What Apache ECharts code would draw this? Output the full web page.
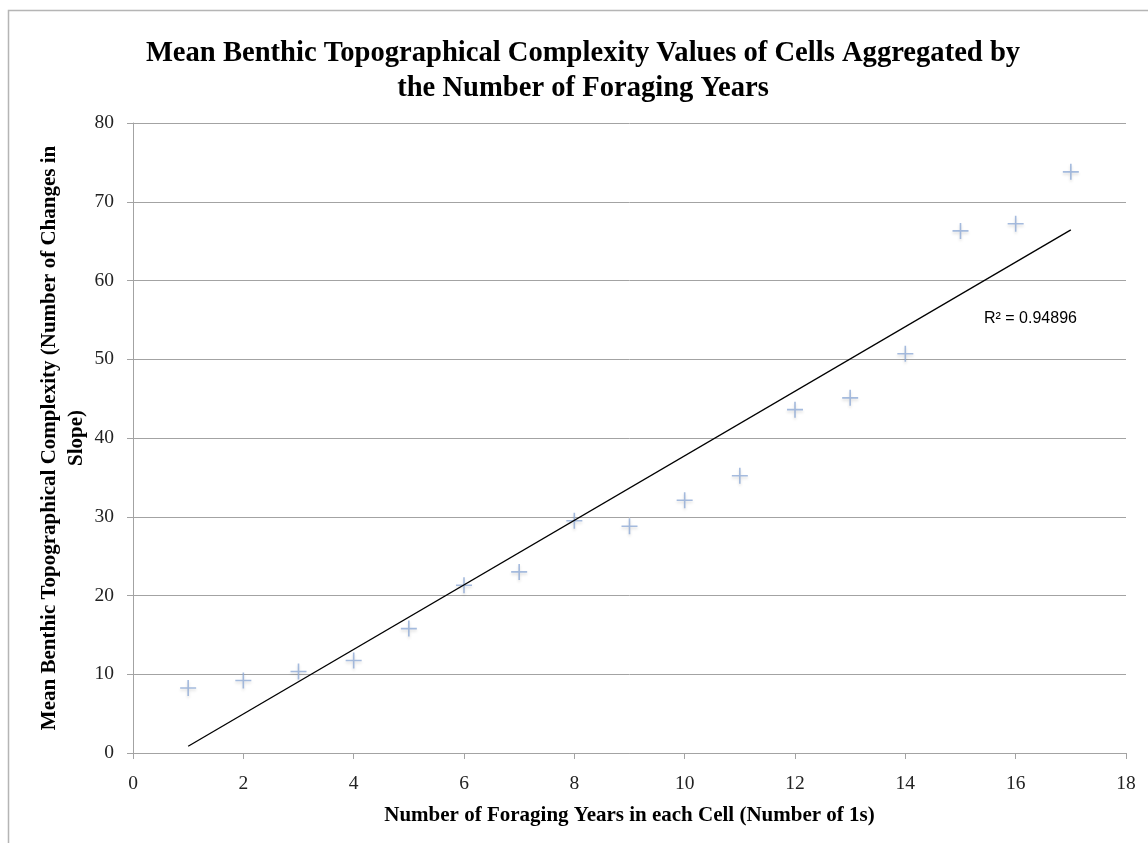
<!DOCTYPE html>
<html>
<head>
<meta charset="utf-8">
<script src="https://cdn.jsdelivr.net/npm/echarts@6/dist/echarts.min.js"></script>
<style>
  html, body { margin: 0; padding: 0; background: #fff; }
  #chart { width: 1148px; height: 843px; }
</style>
</head>
<body>
<div id="chart"></div>
<script>
// foraging years (x) and mean complexity (y)
const years = [1, 2, 3, 4, 5, 6, 7, 8, 9, 10, 11, 12, 13, 14, 15, 16, 17];
const complexity = [8.25, 9.2, 10.35, 11.75, 15.8, 21.3, 23.0, 29.5, 28.8, 32.1, 35.2, 43.6, 45.1, 50.7, 66.3, 67.2, 73.8];
const xTicks = [0, 2, 4, 6, 8, 10, 12, 14, 16, 18];
const yTicks = [0, 10, 20, 30, 40, 50, 60, 70, 80];
const rSquaredText = "R\u00b2 = 0.94896";

// linear trendline (least squares), like the spreadsheet did
const n = years.length;
const mx = years.reduce((a, b) => a + b, 0) / n;
const my = complexity.reduce((a, b) => a + b, 0) / n;
let sxy = 0, sxx = 0;
for (let i = 0; i < n; i++) {
  sxy += (years[i] - mx) * (complexity[i] - my);
  sxx += (years[i] - mx) * (years[i] - mx);
}
const slope = sxy / sxx;
const intercept = my - slope * mx;
const first = years[0], last = years[n - 1];
const trend = [[first, intercept + slope * first], [last, intercept + slope * last]];

const serif = '"Liberation Serif", "Times New Roman", serif';
const gridGray = "#a3a3a3";
const cross = "path://M4.5,0h1v4.5h4.5v1h-4.5v4.5h-1v-4.5h-4.5v-1h4.5z";

const chart = echarts.init(document.getElementById("chart"));

chart.setOption({
  animation: false,
  title: {
    text: "Mean Benthic Topographical Complexity Values of Cells Aggregated by\nthe Number of Foraging Years",
    left: 578,
    top: 31,
    textAlign: "center",
    textStyle: {
      fontFamily: serif,
      fontWeight: "bold",
      fontSize: 28.6,
      lineHeight: 35,
      color: "#000",
    },
  },
  graphic: [
    {
      type: "rect",
      silent: true,
      shape: { x: 8.5, y: 10.5, width: 1200, height: 900 },
      style: { fill: "none", stroke: "#b5b5b5", lineWidth: 1.5 },
    },
    {
      type: "text",
      left: 984,
      top: 311,
      style: {
        text: rSquaredText,
        font: '16px "Liberation Sans", Arial, sans-serif',
        fill: "#000",
      },
    },
  ],
  grid: { left: 133, right: 22, top: 123, bottom: 90 },
  xAxis: {
    type: "value",
    min: xTicks[0],
    max: xTicks[xTicks.length - 1],
    interval: 2,
    name: "Number of Foraging Years in each Cell (Number of 1s)",
    nameLocation: "middle",
    nameGap: 52,
    nameMoveOverlap: false,
    nameTextStyle: { fontFamily: serif, fontWeight: "bold", fontSize: 21, color: "#000" },
    axisLine: { lineStyle: { color: gridGray, width: 1 } },
    axisTick: { show: true, inside: false, length: 6, lineStyle: { color: gridGray } },
    axisLabel: { fontFamily: serif, fontSize: 19.5, color: "#222", margin: 21 },
    splitLine: { show: false },
  },
  yAxis: {
    type: "value",
    min: yTicks[0],
    max: yTicks[yTicks.length - 1],
    interval: 10,
    name: "Mean Benthic Topographical Complexity (Number of Changes in\nSlope)",
    nameLocation: "middle",
    nameRotate: 90,
    nameGap: 43,
    nameMoveOverlap: false,
    nameTextStyle: { fontFamily: serif, fontWeight: "bold", fontSize: 21, lineHeight: 27, color: "#000" },
    axisLine: { show: true, lineStyle: { color: gridGray, width: 1 } },
    axisTick: { show: true, inside: false, length: 6, lineStyle: { color: gridGray } },
    axisLabel: { fontFamily: serif, fontSize: 19.5, color: "#222", margin: 19 },
    splitLine: { show: true, lineStyle: { color: gridGray, width: 1 } },
  },
  series: [
    {
      type: "scatter",
      data: years.map((x, i) => [x, complexity[i]]),
      symbol: cross,
      symbolSize: 16,
      itemStyle: {
        color: "#8eaad6",
        shadowBlur: 3,
        shadowColor: "rgba(0,0,0,0.18)",
        shadowOffsetY: 2,
      },
      z: 3,
    },
    {
      type: "line",
      data: trend,
      symbol: "none",
      lineStyle: { color: "#000", width: 1.3 },
      z: 4,
    },
  ],
});
</script>
</body>
</html>
